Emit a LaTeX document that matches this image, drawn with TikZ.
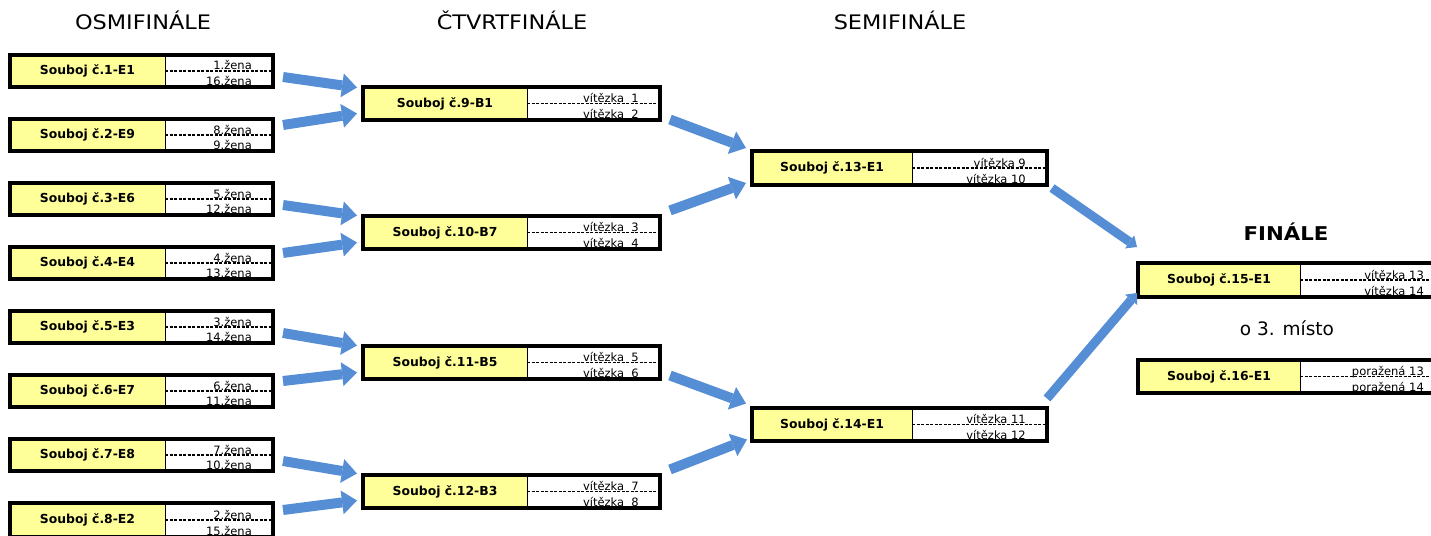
\documentclass[tikz,border=0pt]{standalone}
\usepackage{fontspec}
\setmainfont{DejaVu Sans}
\newfontfamily\hdrfont[FakeStretch=1.12]{DejaVu Sans}
\usetikzlibrary{arrows.meta,calc}
\definecolor{byellow}{RGB}{255,255,153}
\definecolor{ablue}{RGB}{85,142,213}
\tikzset{
  boxnode/.style={fill=white,inner sep=0pt,outer sep=0pt},
  border/.style={draw=black,line width=3.6pt},
  divider/.style={draw=black,line width=1pt},
  dashline/.style={draw=black,line width=1.7pt,dash pattern=on 3pt off 1.5pt},
  lab/.style={font=\bfseries\fontsize{12.4}{14}\selectfont,inner sep=0pt},
  sm/.style={font=\fontsize{11.5}{13}\selectfont,inner sep=0pt},
  hdr/.style={font=\hdrfont\fontsize{20}{22}\selectfont,inner sep=0pt},
  arr/.style={draw=ablue,line width=10pt,-{Triangle[length=15pt,width=24pt,line width=0pt]}},
  arrs/.style={draw=ablue,line width=9pt,-{Triangle[length=9pt,width=16pt,line width=0pt]}},
}
\newcommand\duel[9]{%
  \node[boxnode,minimum width={(#4)-(#2)},minimum height={(#6)-(#5)},anchor=north west] (#1) at (#2,#5) {};
  \fill[byellow] (#2,#5) rectangle (#3,#6);
  \draw[divider] (#3,#5) -- (#3,#6);
  \draw[dashline] (#3,{(#5+#6)/2}) -- (#4,{(#5+#6)/2});
  \node[lab] (#1l) at ({(#2+#3)/2},{(#5+#6)/2}) {#7};
  \node[sm,anchor=base east] (#1a) at ({#4-21},{(#5+#6)/2-1}) {#8};
  \node[sm,anchor=base east] (#1b) at ({#4-21},{#6-1.5}) {#9};
  \draw[border] (#1.north west) rectangle (#1.south east);
}
\begin{document}
\begin{tikzpicture}[x=1pt,y=-1pt]
\useasboundingbox (0,0) rectangle (1431,535);
% headers
\node[hdr] (h1) at (143,20) {OSMIFINÁLE};
\node[hdr] (h2) at (512,20) {ČTVRTFINÁLE};
\node[hdr] (h3) at (900,20) {SEMIFINÁLE};
\node[hdr,font=\hdrfont\bfseries\fontsize{19}{22}\selectfont] (h4) at (1286,232) {FINÁLE};
\node[hdr,font=\fontsize{18.5}{22}\selectfont] (h5) at (1287,328) {o 3. místo};
% round of 16
\duel{o1}{10}{165}{273}{55}{87}{Souboj č.1-E1}{1.žena}{16.žena}
\duel{o2}{10}{165}{273}{119}{151}{Souboj č.2-E9}{8.žena}{9.žena}
\duel{o3}{10}{165}{273}{183}{215}{Souboj č.3-E6}{5.žena}{12.žena}
\duel{o4}{10}{165}{273}{247}{279}{Souboj č.4-E4}{4.žena}{13.žena}
\duel{o5}{10}{165}{273}{311}{343}{Souboj č.5-E3}{3.žena}{14.žena}
\duel{o6}{10}{165}{273}{375}{407}{Souboj č.6-E7}{6.žena}{11.žena}
\duel{o7}{10}{165}{273}{439}{471}{Souboj č.7-E8}{7.žena}{10.žena}
\duel{o8}{10}{165}{273}{503}{537}{Souboj č.8-E2}{2.žena}{15.žena}
% quarterfinals
\duel{q9}{363}{527}{660}{87}{120}{Souboj č.9-B1}{vítězka\ \ 1}{vítězka\ \ 2}
\duel{q10}{363}{527}{660}{216}{249}{Souboj č.10-B7}{vítězka\ \ 3}{vítězka\ \ 4}
\duel{q11}{363}{527}{660}{346}{379}{Souboj č.11-B5}{vítězka\ \ 5}{vítězka\ \ 6}
\duel{q12}{363}{527}{660}{475}{508}{Souboj č.12-B3}{vítězka\ \ 7}{vítězka\ \ 8}
% semifinals
\duel{s13}{752}{912}{1047}{151}{185}{Souboj č.13-E1}{vítězka 9}{vítězka 10}
\duel{s14}{752}{912}{1047}{408}{441}{Souboj č.14-E1}{vítězka 11}{vítězka 12}
% final
\duel{f15}{1138}{1300}{1445}{263}{297}{Souboj č.15-E1}{vítězka 13}{vítězka 14}
\duel{f16}{1138}{1300}{1445}{360}{393}{Souboj č.16-E1}{poražená 13}{poražená 14}
% arrows col1 -> col2
\draw[arr] ($(o1.east)+(10,6)$) -- ($(q9.west)+(-6,-16)$);
\draw[arr] ($(o2.east)+(10,-10)$) -- ($(q9.west)+(-6,10)$);
\draw[arr] ($(o3.east)+(10,6)$) -- ($(q10.west)+(-6,-17)$);
\draw[arr] ($(o4.east)+(10,-10)$) -- ($(q10.west)+(-6,10)$);
\draw[arr] ($(o5.east)+(10,6)$) -- ($(q11.west)+(-6,-17)$);
\draw[arr] ($(o6.east)+(10,-10)$) -- ($(q11.west)+(-6,10)$);
\draw[arr] ($(o7.east)+(10,6)$) -- ($(q12.west)+(-6,-18)$);
\draw[arr] ($(o8.east)+(10,-10)$) -- ($(q12.west)+(-6,9)$);
% arrows col2 -> col3
\draw[arr] ($(q9.east)+(10,16)$) -- ($(s13.west)+(-6,-20)$);
\draw[arr] ($(q10.east)+(10,-22)$) -- ($(s13.west)+(-6,15)$);
\draw[arr] ($(q11.east)+(10,13)$) -- ($(s14.west)+(-6,-21)$);
\draw[arr] ($(q12.east)+(10,-22)$) -- ($(s14.west)+(-5,15)$);
% arrows col3 -> final
\draw[arrs] ($(s13.east)+(5,20)$) -- ($(f15.west)+(-1,-33)$);
\draw[arrs] ($(s14.east)+(0,-26)$) -- ($(f15.west)+(-1,13)$);
\end{tikzpicture}
\end{document}
